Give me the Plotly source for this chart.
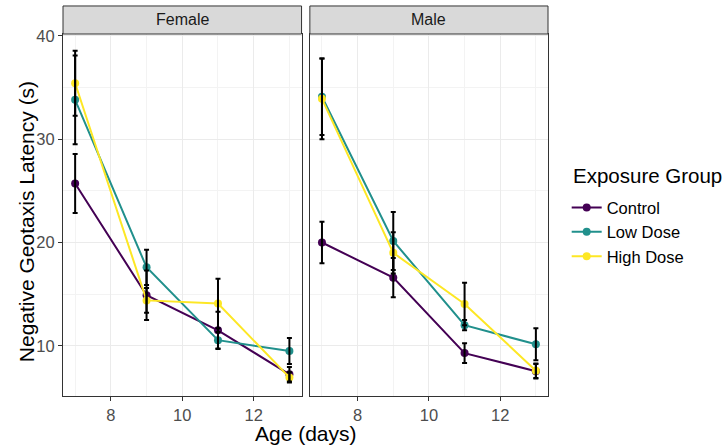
import plotly.graph_objects as go

days = [7, 9, 11, 13]
groups = ["Control", "Low Dose", "High Dose"]
colors = {"Control": "#440154", "Low Dose": "#21908C", "High Dose": "#FDE725"}

female_control = [25.7, 14.9, 11.5, 7.25]
female_control_se = [2.85, 2.4, 1.8, 0.7]
female_low = [33.8, 17.6, 10.55, 9.5]
female_low_se = [4.3, 1.7, 0.8, 1.25]
female_high = [35.4, 14.4, 14.1, 6.95]
female_high_se = [3.15, 1.2, 2.4, 0.5]

male_control = [20.0, 16.6, 9.3, 7.55]
male_control_se = [2.0, 1.9, 0.95, 0.7]
male_low = [34.1, 20.15, 12.0, 10.15]
male_low_se = [3.7, 2.8, 0.5, 1.55]
male_high = [33.9, 19.0, 14.05, 7.6]
male_high_se = [3.9, 2.0, 2.05, 0.7]

panels = [
    ("Female", "x", "y", {"Control": (female_control, female_control_se),
                          "Low Dose": (female_low, female_low_se),
                          "High Dose": (female_high, female_high_se)}),
    ("Male", "x2", "y2", {"Control": (male_control, male_control_se),
                          "Low Dose": (male_low, male_low_se),
                          "High Dose": (male_high, male_high_se)}),
]

fig = go.Figure()

for pi, (name, xa, ya, data) in enumerate(panels):
    for g in groups:
        vals, se = data[g]
        fig.add_trace(go.Scatter(
            x=days, y=vals, mode="lines+markers", name=g,
            line=dict(color=colors[g], width=2),
            marker=dict(color=colors[g], size=8),
            xaxis=xa, yaxis=ya, showlegend=(pi == 0), legendgroup=g,
        ))
for pi, (name, xa, ya, data) in enumerate(panels):
    for g in groups:
        vals, se = data[g]
        fig.add_trace(go.Scatter(
            x=days, y=vals, mode="markers",
            marker=dict(color="rgba(0,0,0,0)", size=1),
            error_y=dict(type="data", array=se, visible=True,
                         color="black", thickness=2, width=2.5),
            xaxis=xa, yaxis=ya, showlegend=False, hoverinfo="skip",
        ))

FONT = "Liberation Sans, Arial, sans-serif"
W, H = 726, 447
ml, mt = 63, 34
mr = W - 548.3
mb = H - 395.7
pw = W - ml - mr
ph = H - mt - mb
d1 = [0, 238.7 / pw]
d2 = [(310 - ml) / pw, 1]


def px_x(x):
    return (x - ml) / pw


def px_y(y):
    return 1 - (y - mt) / ph


axis_common = dict(
    showgrid=True, gridcolor="#EBEBEB", gridwidth=1.1,
    zeroline=False, showline=True, mirror=True, linecolor="#333333", linewidth=1,
    ticks="outside", ticklen=4, tickcolor="#333333", tickwidth=1,
    tickfont=dict(family=FONT, size=16.5, color="#4D4D4D"),
)
minor_x = dict(tickvals=[7, 9, 11, 13], showgrid=True, gridcolor="#F3F3F3", gridwidth=0.8, ticks="")
minor_y = dict(tickvals=[15, 25, 35], showgrid=True, gridcolor="#F3F3F3", gridwidth=0.8, ticks="")

fig.update_layout(
    width=W, height=H,
    margin=dict(l=ml, r=mr, t=mt, b=mb, pad=0),
    paper_bgcolor="white", plot_bgcolor="white",
    font=dict(family=FONT),
    xaxis=dict(domain=d1, range=[6.66, 13.34], tickvals=[8, 10, 12], minor=minor_x, **axis_common),
    xaxis2=dict(domain=d2, range=[6.66, 13.34], tickvals=[8, 10, 12], anchor="y2", minor=minor_x, **axis_common),
    yaxis=dict(range=[5.15, 40.17], tickvals=[10, 20, 30, 40], minor=minor_y, **axis_common),
    yaxis2=dict(range=[5.15, 40.17], tickvals=[10, 20, 30, 40], anchor="x2",
                showticklabels=False, ticks="", minor=minor_y,
                **{k: v for k, v in axis_common.items() if k != "ticks"}),
    legend=dict(
        font=dict(family=FONT, size=16.5, color="black"),
        x=px_x(567), y=px_y(232), xanchor="left", yanchor="middle",
        bgcolor="rgba(0,0,0,0)", tracegroupgap=0,
    ),
)

strip_h = 28 / ph
for name, dom in [("Female", d1), ("Male", d2)]:
    fig.add_shape(type="rect", xref="paper", yref="paper",
                  x0=dom[0], x1=dom[1], y0=1, y1=1 + strip_h,
                  fillcolor="#D9D9D9", line=dict(color="#333333", width=1), layer="above")
    fig.add_annotation(xref="paper", yref="paper", x=(dom[0] + dom[1]) / 2, y=1 + strip_h / 2,
                       text=name, showarrow=False, xanchor="center", yanchor="middle",
                       font=dict(family=FONT, size=16, color="#1A1A1A"))

fig.add_annotation(xref="paper", yref="paper", x=px_x(573), y=px_y(175),
                   text="Exposure Group", showarrow=False, xanchor="left", yanchor="middle",
                   xshift=-2, font=dict(family=FONT, size=20.5, color="black"))
fig.add_annotation(xref="paper", yref="paper", x=0.5, y=px_y(433),
                   text="Age (days)", showarrow=False, xanchor="center", yanchor="middle",
                   font=dict(family=FONT, size=21, color="black"))
fig.add_annotation(xref="paper", yref="paper", x=px_x(26), y=px_y(222),
                   text="Negative Geotaxis Latency (s)", showarrow=False, textangle=-90,
                   xanchor="center", yanchor="middle",
                   font=dict(family=FONT, size=21, color="black"))

fig.write_html("out.html", config={"displayModeBar": False},
               post_script="document.body.style.margin='0px';document.body.style.overflow='hidden';")
